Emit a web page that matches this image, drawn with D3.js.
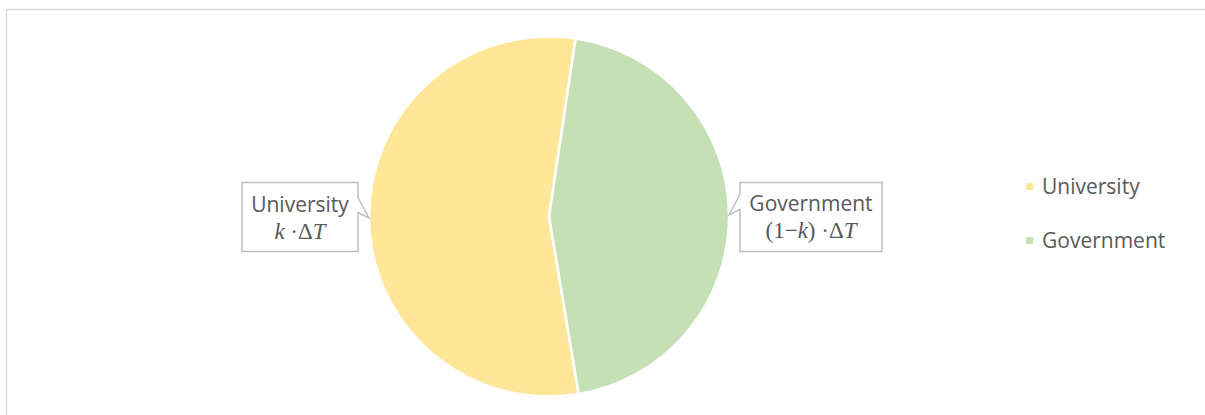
<!DOCTYPE html>
<html>
<head>
<meta charset="utf-8">
<script src="https://cdn.jsdelivr.net/npm/d3@7"></script>
<style>
  html, body { margin: 0; padding: 0; background: #fff; }
  svg { display: block; }
</style>
</head>
<body>
<script>
// ---- data ----
const categories = ["University", "Government"];
const values = [55, 45];
const colors = ["#FFE699", "#C5E0B4"];
const calloutTitles = ["University", "Government"];

const W = 1205, H = 415;
const svg = d3.select("body").append("svg").attr("width", W).attr("height", H);

// chart border
svg.append("rect")
  .attr("x", 6.5).attr("y", 9.5).attr("width", W + 20).attr("height", H + 20)
  .attr("fill", "#fff").attr("stroke", "#D9D9D9").attr("stroke-width", 1.5);

const cx = 549, cy = 216.5, r = 180;
const a0 = 170.5 * Math.PI / 180;

const pie = d3.pie().sort(null).value(d => d).startAngle(a0).endAngle(a0 + 2 * Math.PI);
const arcs = pie(values);
const arc = d3.arc().innerRadius(0).outerRadius(r);

const g = svg.append("g").attr("transform", `translate(${cx},${cy})`);
g.selectAll("path").data(arcs).join("path")
  .attr("d", arc)
  .attr("fill", (d, i) => colors[i])
  .attr("stroke", "#fff").attr("stroke-width", 2.5).attr("stroke-linejoin", "miter");

// callouts
const textColor = "#595959";
const sans = "'Open Sans', 'Noto Sans', sans-serif";
const serif = "'Liberation Serif', 'DejaVu Serif', serif";
const boxW = [116, 142], boxH = 69, gap = 11;

arcs.forEach((d, i) => {
  const mid = (d.startAngle + d.endAngle) / 2;
  const tx = cx + Math.sin(mid) * r;
  const ty = cy - Math.cos(mid) * r;
  const left = Math.sin(mid) < 0;
  const bw = boxW[i];
  const by = ty - boxH / 2 + (left ? -1 : 2);
  const bx = left ? tx - gap - bw : tx + gap;
  const nTop = by + (left ? 15 : 12), nBot = by + (left ? 30 : 27);
  const edge = left ? bx + bw : bx;
  let pts;
  if (left) {
    pts = [[bx, by], [bx + bw, by], [edge, nTop], [tx, ty], [edge, nBot], [bx + bw, by + boxH], [bx, by + boxH]];
  } else {
    pts = [[bx, by], [bx + bw, by], [bx + bw, by + boxH], [bx, by + boxH], [edge, nBot], [tx, ty], [edge, nTop]];
  }
  svg.append("path")
    .attr("d", d3.line()(pts) + "Z")
    .attr("fill", "#fff").attr("stroke", "#BFBFBF").attr("stroke-width", 1.5);

  const ctrX = bx + bw / 2;
  svg.append("text")
    .attr("x", ctrX).attr("y", by + 29)
    .attr("text-anchor", "middle")
    .attr("font-family", sans).attr("font-size", 21)
    .attr("fill", textColor)
    .text(calloutTitles[i]);

  const t2 = svg.append("text")
    .attr("x", ctrX).attr("y", by + 56)
    .attr("text-anchor", "middle")
    .attr("font-family", serif).attr("font-size", 23)
    .attr("fill", textColor);
  if (i === 0) {
    t2.append("tspan").attr("font-style", "italic").text("k");
    t2.append("tspan").text(" \u00B7\u0394");
    t2.append("tspan").attr("font-style", "italic").text("T");
  } else {
    t2.append("tspan").text("(1\u2212");
    t2.append("tspan").attr("font-style", "italic").text("k");
    t2.append("tspan").text(") \u00B7\u0394");
    t2.append("tspan").attr("font-style", "italic").text("T");
  }
});

// legend
const legend = svg.append("g").attr("transform", "translate(1026,186.5)");
categories.forEach((c, i) => {
  const row = legend.append("g").attr("transform", `translate(0,${i * 54})`);
  row.append("rect").attr("x", 0).attr("y", -3.5).attr("width", 7).attr("height", 7).attr("fill", colors[i]);
  row.append("text").attr("x", 16).attr("y", 0).attr("dy", "0.35em")
    .attr("font-family", sans).attr("font-size", 21).attr("fill", textColor)
    .text(c);
});
</script>
</body>
</html>
